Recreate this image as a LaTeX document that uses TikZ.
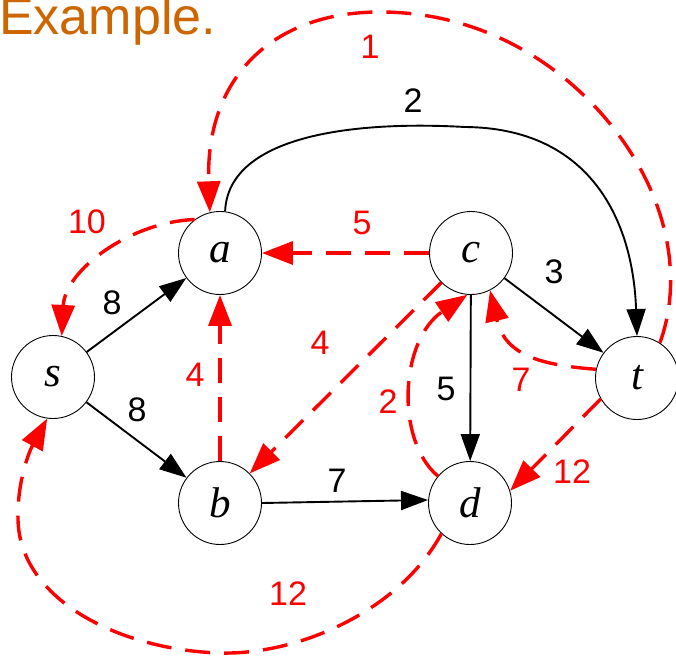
\documentclass[tikz,border=0pt]{standalone}
\usepackage{fontspec}
\setmainfont{Liberation Sans}
\newfontfamily\nodefont{Liberation Serif}
\usetikzlibrary{arrows.meta}
\definecolor{titleorange}{RGB}{204,102,0}
\definecolor{pured}{RGB}{255,0,0}
\tikzset{
  vert/.style={circle, draw, line width=0.9pt, minimum size=83pt, inner sep=0pt,
    font=\nodefont\itshape\fontsize{43}{43}\selectfont},
  blk/.style={line width=1.9pt, -{Triangle[length=27pt,width=19pt]}},
  rdash/.style={pured, line width=3.4pt, dash pattern=on 25pt off 14pt,
    -{Triangle[length=31pt,width=23pt]}},
  wlab/.style={font=\fontsize{34}{34}\selectfont, inner sep=0pt},
  rlab/.style={wlab, text=pured}
}
\begin{document}
\begin{tikzpicture}[x=1pt,y=-1pt]
\useasboundingbox (0,0) rectangle (676,655);
\node[anchor=base west, inner sep=0pt, text=titleorange, font=\fontsize{52}{52}\selectfont] (title) at (-1,35) {Example.};

\node[vert] (a) at (220,253) {a};
\node[vert] (c) at (471,253) {c};
\node[vert] (s) at (53,377) {s};
\node[vert] (t) at (637,378) {t};
\node[vert] (b) at (220,503) {b};
\node[vert] (d) at (470,503) {d};

% black edges
\draw[blk] (s) -- (a);
\draw[blk] (s) -- (b);
\draw[blk] (b.east) -- ([yshift=3pt]d.west);
\draw[blk] (c) -- (d);
\draw[blk] (c) -- (t);
\draw[blk] (a.83) .. controls (228,140) and (340,120) .. (465,127)
  .. controls (590,128) and (633,220) .. (t.north);

\node[wlab] (l8a) at (112,303) {8};
\node[wlab] (l8b) at (137,410) {8};
\node[wlab] (l7) at (337,481) {7};
\node[wlab] (l5) at (446,389) {5};
\node[wlab] (l3) at (554,272) {3};
\node[wlab] (l2) at (413,101) {2};

% red dashed edges
\draw[rdash] (t.57) .. controls (672,310) and (678,260) .. (655,200)
  .. controls (620,110) and (520,12) .. (380,12)
  .. controls (270,12) and (205,80) .. (a.104);
\draw[rdash] (c) -- (a);
\draw[rdash] (a.127) .. controls (130,222) and (65,270) .. (s.78);
\draw[rdash] (b) -- (a);
\draw[rdash] (c) -- (b);
\draw[rdash] (d.140) .. controls (395,440) and (400,340) .. (c.265);
\draw[rdash] (t.168) .. controls (540,365) and (505,355) .. (c.297);
\draw[rdash] (t.210) -- (d.17);
\draw[rdash] (d.227) .. controls (400,610) and (300,655) .. (220,653)
  .. controls (120,650) and (20,600) .. (18,520)
  .. controls (17,480) and (30,450) .. (s.262);

\node[rlab] (r1) at (370,47) {1};
\node[rlab] (r5) at (362,223) {5};
\node[rlab] (r10) at (87,222) {10};
\node[rlab] (r4a) at (195,375) {4};
\node[rlab] (r4b) at (320,343) {4};
\node[rlab] (r2) at (388,402) {2};
\node[rlab] (r7) at (521,380) {7};
\node[rlab] (r12a) at (572,472) {12};
\node[rlab] (r12b) at (288,594) {12};
\end{tikzpicture}
\end{document}
